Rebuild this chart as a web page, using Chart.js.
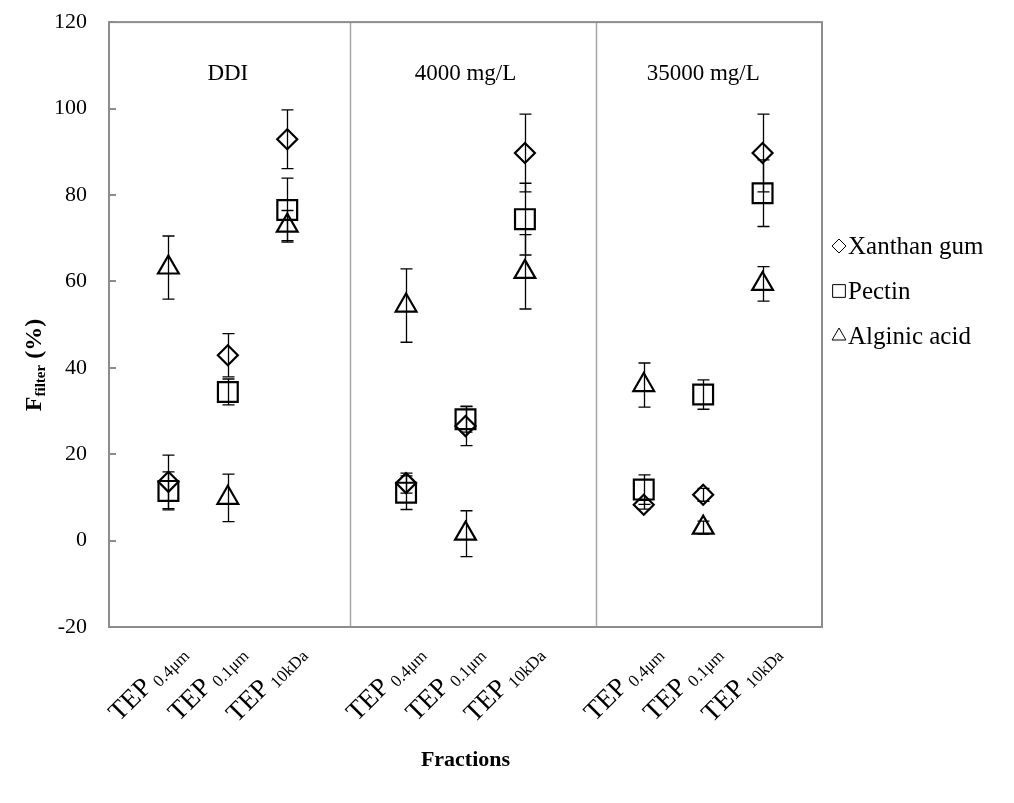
<!DOCTYPE html>
<html>
<head>
<meta charset="utf-8">
<script src="https://cdn.jsdelivr.net/npm/chart.js@4/dist/chart.umd.min.js"></script>
<style>
html, body { margin: 0; padding: 0; background: #fff; }
#wrap { width: 1014px; height: 803px; position: relative; }
</style>
</head>
<body>
<div id="wrap"><canvas id="grafico"></canvas></div>
<script>
const GRUPOS = ["DDI", "4000 mg/L", "35000 mg/L"]
const GRUPO_X = [2, 6, 10]
const SEPARADORES = [4.05, 8.2]
const POS_X = [1, 2, 3, 5, 6, 7, 9, 10, 11]
const FRACCIONES = ["0.4μm", "0.1μm", "10kDa", "0.4μm", "0.1μm", "10kDa", "0.4μm", "0.1μm", "10kDa"]
const Y_TICKS = [-20, 0, 20, 40, 60, 80, 100, 120]

const SERIES = ["Xanthan gum", "Pectin", "Alginic acid"]
const XANTHAN = [13.6, 42.9, 92.9, 13.3, 26.5, 89.7, 8.3, 10.6, 89.7]
const XANTHAN_ERR = [6.2, 5.0, 6.8, 2.3, 4.5, 9.0, 1.0, 1.5, 9.0]
const PECTIN = [11.5, 34.4, 76.5, 11.1, 28.1, 74.4, 11.8, 33.8, 80.4]
const PECTIN_ERR = [4.4, 3.0, 7.4, 3.9, 3.0, 8.3, 3.4, 3.4, 7.7]
const ALGINIC = [63.2, 9.9, 72.9, 54.4, 1.6, 62.2, 36.0, 3.0, 59.4]
const ALGINIC_ERR = [7.3, 5.5, 3.5, 8.5, 5.3, 8.6, 5.1, 1.5, 4.0]

const SERIF = '"Liberation Serif", "Times New Roman", serif'
const GRIS = "#8c8c8c"

function puntos(valores, errores) {
    return POS_X.map((x, i) => ({ x: x, y: valores[i], err: errores[i] }))
}

// marco, separadores y marcas del eje y
const marco = {
    id: "marco",
    beforeDatasetsDraw(chart) {
        const { ctx, chartArea: a, scales: { x, y } } = chart
        ctx.save()
        ctx.strokeStyle = "#a6a6a6"
        ctx.lineWidth = 1.5
        for (let s of SEPARADORES) {
            let px = Math.round(x.getPixelForValue(s)) + 0.5
            ctx.beginPath()
            ctx.moveTo(px, a.top)
            ctx.lineTo(px, a.bottom)
            ctx.stroke()
        }
        ctx.strokeStyle = GRIS
        ctx.lineWidth = 2
        ctx.strokeRect(a.left, a.top, a.right - a.left, a.bottom - a.top)
        for (let t of Y_TICKS) {
            let py = Math.round(y.getPixelForValue(t))
            ctx.beginPath()
            ctx.moveTo(a.left, py)
            ctx.lineTo(a.left + 7, py)
            ctx.stroke()
        }
        ctx.fillStyle = "#000"
        ctx.font = "23px " + SERIF
        ctx.textAlign = "center"
        ctx.textBaseline = "middle"
        GRUPOS.forEach((g, i) => {
            ctx.fillText(g, x.getPixelForValue(GRUPO_X[i]), y.getPixelForValue(108))
        })
        ctx.restore()
    }
}

const barrasError = {
    id: "barrasError",
    afterDatasetsDraw(chart) {
        const { ctx, scales: { x, y } } = chart
        ctx.save()
        ctx.strokeStyle = "#000"
        ctx.lineWidth = 1.3
        chart.data.datasets.forEach(ds => {
            for (let p of ds.data) {
                let px = Math.round(x.getPixelForValue(p.x)) + 0.5
                let y1 = y.getPixelForValue(p.y + p.err)
                let y2 = y.getPixelForValue(p.y - p.err)
                ctx.beginPath()
                ctx.moveTo(px, y1)
                ctx.lineTo(px, y2)
                ctx.moveTo(px - 6, y1)
                ctx.lineTo(px + 6, y1)
                ctx.moveTo(px - 6, y2)
                ctx.lineTo(px + 6, y2)
                ctx.stroke()
            }
        })
        ctx.restore()
    }
}

// etiquetas TEP con subindice, titulos y leyenda
const textos = {
    id: "textos",
    afterDraw(chart) {
        const { ctx, chartArea: a, scales: { x } } = chart
        ctx.save()
        ctx.fillStyle = "#000"
        ctx.textBaseline = "alphabetic"
        ctx.textAlign = "left"
        POS_X.forEach((v, i) => {
            ctx.save()
            ctx.translate(x.getPixelForValue(v) + 19, a.bottom + 27)
            ctx.rotate(-Math.PI / 4)
            ctx.font = "27px " + SERIF
            let w1 = ctx.measureText("TEP").width
            ctx.font = "17px " + SERIF
            let w2 = ctx.measureText(FRACCIONES[i]).width
            let inicio = -(w1 + 5 + w2)
            ctx.font = "27px " + SERIF
            ctx.fillText("TEP", inicio, 0)
            ctx.font = "17px " + SERIF
            ctx.fillText(FRACCIONES[i], inicio + w1 + 5, 4)
            ctx.restore()
        })

        ctx.font = "bold 22px " + SERIF
        ctx.textAlign = "center"
        ctx.textBaseline = "middle"
        ctx.fillText("Fractions", (a.left + a.right) / 2, 760)

        // titulo del eje y
        ctx.save()
        ctx.translate(33, 365)
        ctx.rotate(-Math.PI / 2)
        ctx.textAlign = "left"
        ctx.textBaseline = "alphabetic"
        ctx.font = "bold 24px " + SERIF
        let wF = ctx.measureText("F").width
        let wP = ctx.measureText(" (%)").width
        ctx.font = "bold 15px " + SERIF
        let wS = ctx.measureText("filter").width
        let x0 = -(wF + wS + wP) / 2
        ctx.font = "bold 24px " + SERIF
        ctx.fillText("F", x0, 8)
        ctx.font = "bold 15px " + SERIF
        ctx.fillText("filter", x0 + wF, 12)
        ctx.font = "bold 24px " + SERIF
        ctx.fillText(" (%)", x0 + wF + wS, 8)
        ctx.restore()

        // leyenda
        ctx.textAlign = "left"
        ctx.textBaseline = "middle"
        ctx.font = "25px " + SERIF
        chart.data.datasets.forEach((ds, i) => {
            let ly = 246 + i * 45
            let lx = 839
            ctx.fillStyle = "#fff"
            ctx.strokeStyle = "#000"
            Chart.helpers.drawPoint(ctx, { pointStyle: ds.pointStyle, radius: ds.legendRadius, borderWidth: 1.3 }, lx, ly)
            ctx.fillStyle = "#000"
            ctx.fillText(ds.label, lx + 9, ly + 1)
        })
        ctx.restore()
    }
}

new Chart(document.getElementById("grafico"), {
    type: "scatter",
    data: {
        datasets: [
            { label: SERIES[0], data: puntos(XANTHAN, XANTHAN_ERR), pointStyle: "rectRot", pointRadius: 10, legendRadius: 7 },
            { label: SERIES[1], data: puntos(PECTIN, PECTIN_ERR), pointStyle: "rect", pointRadius: 14, legendRadius: 9 },
            { label: SERIES[2], data: puntos(ALGINIC, ALGINIC_ERR), pointStyle: "triangle", pointRadius: 12, legendRadius: 8 }
        ].map(ds => Object.assign(ds, {
            backgroundColor: "rgba(0,0,0,0)",
            borderColor: "#000",
            borderWidth: 2.2,
            pointHoverRadius: ds.pointRadius
        }))
    },
    options: {
        responsive: true,
        maintainAspectRatio: false,
        animation: false,
        layout: { padding: { top: 0, right: 192, bottom: 0, left: 0 } },
        plugins: {
            legend: { display: false },
            tooltip: { enabled: false }
        },
        scales: {
            x: {
                type: "linear",
                min: 0,
                max: 12,
                grid: { display: false },
                border: { display: false },
                ticks: { display: false },
                afterFit(scale) { scale.height = 176 }
            },
            y: {
                min: -20,
                max: 120,
                grid: { display: false, drawTicks: false },
                border: { display: false },
                ticks: {
                    stepSize: 20,
                    padding: 22,
                    color: "#000",
                    font: { family: SERIF, size: 22, lineHeight: 0.01 }
                },
                afterFit(scale) { scale.width = 109 }
            }
        }
    },
    plugins: [marco, barrasError, textos]
});
</script>
</body>
</html>
